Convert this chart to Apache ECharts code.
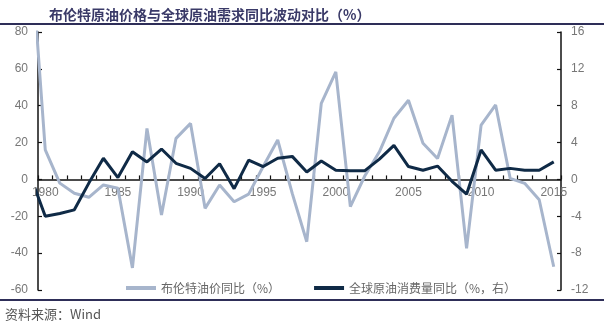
<!DOCTYPE html>
<html>
<head>
<meta charset="utf-8">
<script src="https://cdn.jsdelivr.net/npm/echarts@6/dist/echarts.min.js"></script>
<style>
  html, body { margin: 0; padding: 0; background: #ffffff; }
  #chart { width: 604px; height: 328px; }
</style>
</head>
<body>
<div id="chart"></div>
<script>
// Years with data; 1979 is only the lead-in point, clipped at the left edge of the plot
const years = [1979, 1980, 1981, 1982, 1983, 1984, 1985, 1986, 1987, 1988, 1989,
  1990, 1991, 1992, 1993, 1994, 1995, 1996, 1997, 1998, 1999,
  2000, 2001, 2002, 2003, 2004, 2005, 2006, 2007, 2008, 2009,
  2010, 2011, 2012, 2013, 2014, 2015];

// Category labels shown on the x axis
const yearLabels = ['1980', '1981', '1982', '1983', '1984', '1985', '1986', '1987', '1988', '1989',
  '1990', '1991', '1992', '1993', '1994', '1995', '1996', '1997', '1998', '1999',
  '2000', '2001', '2002', '2003', '2004', '2005', '2006', '2007', '2008', '2009',
  '2010', '2011', '2012', '2013', '2014', '2015'];

// Brent price, year-on-year change (%), left axis
const brentYoY = [125, 16, -2, -7.5, -9.7, -3, -4.8, -48, 27.7, -19.3, 22.3,
  30.4, -15.7, -3, -12.1, -8, 7, 21.4, -7.6, -33.8, 41.3,
  58.4, -14.8, 2, 15, 33.2, 43, 19.6, 11.4, 34.9, -37.4,
  29.5, 40.4, 0.6, -2.1, -11, -47.4];

// Global oil consumption, year-on-year change (%), right axis
const demandYoY = [0.3, -4.0, -3.7, -3.3, -0.4, 2.3, 0.2, 3.0, 1.9, 3.3, 1.75,
  1.2, 0.1, 1.7, -1.0, 2.1, 1.4, 2.3, 2.5, 0.8, 2.0,
  1.0, 0.95, 0.95, 2.2, 3.7, 1.4, 1.0, 1.45, -0.2, -1.6,
  3.2, 1.0, 1.2, 1.0, 1.0, 1.9];

// Axis tick values
const leftTicks = { min: -60, max: 80, step: 20 };
const rightTicks = { min: -12, max: 16, step: 4 };

const seriesNames = ['布伦特油价同比（%）', '全球原油消费量同比（%，右）'];

// Plot box in pixels
const plot = { left: 38, right: 43, top: 32, bottom: 38 };
const plotHeight = 328 - plot.top - plot.bottom;
// Height of the part of the plot above the zero line of the left axis
const upperHeight = plotHeight * leftTicks.max / (leftTicks.max - leftTicks.min);

const chart = echarts.init(document.getElementById('chart'), null, { renderer: 'canvas' });

const axisLabelStyle = { color: '#777777', fontSize: 12, fontFamily: 'Liberation Sans, Arial, sans-serif' };
const axisLineStyle = { color: '#111111', width: 1.5 };
const tickStyle = { color: '#111111', width: 1.2 };

chart.setOption({
  animation: false,
  backgroundColor: '#ffffff',
  title: {
    text: '布伦特原油价格与全球原油需求同比波动对比（%）',
    left: 44,
    top: 3,
    textStyle: { fontFamily: 'Noto Sans CJK SC', fontSize: 14, fontWeight: 'bold', color: '#3a3a68' }
  },
  graphic: [
    { type: 'line', shape: { x1: 0, y1: 24, x2: 604, y2: 24 }, style: { stroke: '#2e2e58', lineWidth: 2 } },
    { type: 'line', shape: { x1: 0, y1: 300, x2: 604, y2: 300 }, style: { stroke: '#2e2e58', lineWidth: 2 } },
    { type: 'text', left: 5, top: 308, style: { text: '资料来源：Wind', fill: '#555555', font: '13px "Noto Sans CJK SC", sans-serif' } }
  ],
  legend: {
    top: 277,
    left: 121,
    itemGap: 34,
    itemWidth: 30,
    itemHeight: 4,
    icon: 'rect',
    textStyle: { color: '#666666', fontSize: 12, fontFamily: 'Noto Sans CJK SC' },
    data: seriesNames
  },
  grid: [
    // main plot
    { left: plot.left, right: plot.right, top: plot.top, bottom: plot.bottom },
    // year axis sitting on the zero line
    { left: plot.left, right: plot.right, top: plot.top, height: upperHeight }
  ],
  xAxis: [
    {
      type: 'value',
      gridIndex: 0,
      min: 1979.5,
      max: 2015.5,
      show: false,
      splitLine: { show: false }
    },
    {
      type: 'category',
      gridIndex: 1,
      data: yearLabels,
      boundaryGap: true,
      position: 'bottom',
      axisLine: { onZero: false, lineStyle: axisLineStyle },
      axisTick: { show: true, inside: true, length: 4, interval: 0, alignWithLabel: false, lineStyle: tickStyle },
      axisLabel: Object.assign({ interval: 4, margin: 7 }, axisLabelStyle),
      splitLine: { show: false }
    }
  ],
  yAxis: [
    {
      type: 'value',
      gridIndex: 0,
      min: leftTicks.min,
      max: leftTicks.max,
      interval: leftTicks.step,
      position: 'left',
      axisLine: { show: true, onZero: false, lineStyle: axisLineStyle },
      axisTick: { show: true, inside: true, length: 4, lineStyle: tickStyle },
      axisLabel: Object.assign({ margin: 10 }, axisLabelStyle),
      splitLine: { show: false }
    },
    {
      type: 'value',
      gridIndex: 0,
      min: rightTicks.min,
      max: rightTicks.max,
      interval: rightTicks.step,
      position: 'right',
      axisLine: { show: true, onZero: false, lineStyle: axisLineStyle },
      axisTick: { show: true, inside: true, length: 4, lineStyle: tickStyle },
      axisLabel: Object.assign({ margin: 10 }, axisLabelStyle),
      splitLine: { show: false }
    },
    {
      type: 'value',
      gridIndex: 1,
      min: 0,
      max: leftTicks.max,
      show: false,
      splitLine: { show: false }
    }
  ],
  series: [
    {
      name: seriesNames[0],
      type: 'line',
      xAxisIndex: 0,
      yAxisIndex: 0,
      clip: true,
      showSymbol: false,
      symbol: 'none',
      data: years.map((y, i) => [y, brentYoY[i]]),
      itemStyle: { color: '#a7b5cc' },
      lineStyle: { color: '#a7b5cc', width: 3 },
      z: 2
    },
    {
      name: seriesNames[1],
      type: 'line',
      xAxisIndex: 0,
      yAxisIndex: 1,
      clip: true,
      showSymbol: false,
      symbol: 'none',
      data: years.map((y, i) => [y, demandYoY[i]]),
      itemStyle: { color: '#0f2a46' },
      lineStyle: { color: '#0f2a46', width: 3 },
      z: 3
    }
  ]
});
</script>
</body>
</html>
